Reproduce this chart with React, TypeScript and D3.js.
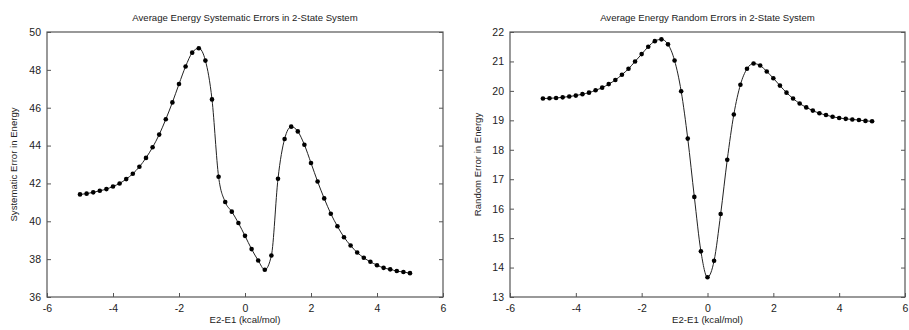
import React, { useRef, useEffect } from "react";
import * as d3 from "d3";

// E2-E1 grid, -5..5 step 0.2
const deltaE = [
  -5, -4.8, -4.6, -4.4, -4.2, -4, -3.8, -3.6, -3.4, -3.2, -3, -2.8, -2.6, -2.4, -2.2, -2, -1.8, -1.6, -1.4, -1.2, -1,
  -0.8, -0.6, -0.4, -0.2, 0, 0.2, 0.4, 0.6, 0.8, 1, 1.2, 1.4, 1.6, 1.8, 2, 2.2, 2.4, 2.6, 2.8, 3, 3.2, 3.4, 3.6, 3.8,
  4, 4.2, 4.4, 4.6, 4.8, 5,
];

const systematicErr = [
  41.42, 41.46, 41.53, 41.61, 41.7, 41.84, 42.0, 42.23, 42.51, 42.88, 43.35, 43.91, 44.58, 45.39, 46.28, 47.25, 48.18,
  48.91, 49.14, 48.49, 46.44, 42.35, 41.02, 40.51, 39.91, 39.23, 38.53, 37.93, 37.44, 38.19, 42.25, 44.35, 45.0, 44.75,
  44.04, 43.08, 42.1, 41.21, 40.4, 39.74, 39.16, 38.72, 38.35, 38.07, 37.86, 37.68, 37.54, 37.46, 37.37, 37.32, 37.26,
];

const randomErr = [
  19.74, 19.75, 19.76, 19.78, 19.81, 19.84, 19.89, 19.94, 20.02, 20.11, 20.23, 20.37, 20.55, 20.75, 21.0, 21.25, 21.5,
  21.69, 21.75, 21.58, 21.03, 19.99, 18.38, 16.4, 14.55, 13.67, 14.23, 15.82, 17.66, 19.2, 20.21, 20.75, 20.93, 20.86,
  20.66, 20.43, 20.18, 19.94, 19.74, 19.57, 19.44, 19.33, 19.24, 19.18, 19.12, 19.08, 19.05, 19.03, 19.01, 18.98, 18.97,
];

const xTicks = [-6, -4, -2, 0, 2, 4, 6];
const sysTicks = [36, 38, 40, 42, 44, 46, 48, 50];
const randTicks = [13, 14, 15, 16, 17, 18, 19, 20, 21, 22];

const FONT = "'Liberation Sans', Arial, sans-serif";

type PanelProps = {
  left: number;
  right: number;
  top: number;
  bottom: number;
  title: string;
  yLabel: string;
  yLabelX: number;
  values: number[];
  yDomain: [number, number];
  yTicks: number[];
};

const Panel: React.FC<PanelProps> = ({ left, right, top, bottom, title, yLabel, yLabelX, values, yDomain, yTicks }) => {
  const gRef = useRef<SVGGElement | null>(null);

  useEffect(() => {
    if (!gRef.current) return;
    const g = d3.select(gRef.current);
    g.selectAll("*").remove();

    const x = d3.scaleLinear().domain([-6, 6]).range([left, right]);
    const y = d3.scaleLinear().domain(yDomain).range([bottom, top]);
    const frame = "#555";

    // bottom axis, ticks pointing inward
    const xAxis = g.append("g")
      .attr("transform", `translate(0,${bottom})`)
      .call(d3.axisBottom(x).tickValues(xTicks).tickSizeInner(-4).tickSizeOuter(0).tickPadding(8).tickFormat((d: any) => String(d)));
    // left axis
    const yAxis = g.append("g")
      .attr("transform", `translate(${left},0)`)
      .call(d3.axisLeft(y).tickValues(yTicks).tickSizeInner(-4).tickSizeOuter(0).tickPadding(6).tickFormat((d: any) => String(d)));
    // mirrored ticks on the right
    const yAxisR = g.append("g")
      .attr("transform", `translate(${right},0)`)
      .call(d3.axisRight(y).tickValues(yTicks).tickSizeInner(-4).tickSizeOuter(0).tickFormat(() => ""));

    [xAxis, yAxis, yAxisR].forEach((a) => {
      a.select(".domain").remove();
      a.selectAll("line").attr("stroke", frame);
      a.selectAll("text").attr("fill", "#222").style("font-family", FONT).style("font-size", "10.5px");
    });

    g.append("rect")
      .attr("x", left)
      .attr("y", top)
      .attr("width", right - left)
      .attr("height", bottom - top)
      .attr("fill", "none")
      .attr("stroke", frame)
      .attr("stroke-width", 1.2);

    const pts = deltaE.map((d, i) => [d, values[i]] as [number, number]);
    const line = d3.line<[number, number]>().x((d) => x(d[0])).y((d) => y(d[1])).curve(d3.curveMonotoneX);

    g.append("path")
      .attr("d", line(pts) as string)
      .attr("fill", "none")
      .attr("stroke", "#222")
      .attr("stroke-width", 1);

    g.selectAll("circle.pt")
      .data(pts)
      .join("circle")
      .attr("class", "pt")
      .attr("cx", (d) => x(d[0]))
      .attr("cy", (d) => y(d[1]))
      .attr("r", 2.3)
      .attr("fill", "#000");

    g.append("text")
      .attr("x", (left + right) / 2)
      .attr("y", 21)
      .attr("text-anchor", "middle")
      .style("font-family", FONT)
      .style("font-size", "9.6px")
      .attr("fill", "#222")
      .text(title);

    g.append("text")
      .attr("x", (left + right) / 2)
      .attr("y", 323)
      .attr("text-anchor", "middle")
      .style("font-family", FONT)
      .style("font-size", "9.6px")
      .attr("fill", "#222")
      .text("E2-E1 (kcal/mol)");

    g.append("text")
      .attr("transform", `translate(${yLabelX},${(top + bottom) / 2}) rotate(-90)`)
      .attr("text-anchor", "middle")
      .style("font-family", FONT)
      .style("font-size", "9.6px")
      .attr("fill", "#222")
      .text(yLabel);
  }, [left, right, top, bottom, title, yLabel, yLabelX, values, yDomain, yTicks]);

  return <g ref={gRef} />;
};

export default function App() {
  return (
    <svg width={909} height={330} style={{ position: "absolute", left: 0, top: 0, background: "#fff" }}>
      <Panel
        left={47}
        right={443}
        top={32}
        bottom={297}
        title="Average Energy Systematic Errors in 2-State System"
        yLabel="Systematic Error in Energy"
        yLabelX={17}
        values={systematicErr}
        yDomain={[36, 50]}
        yTicks={sysTicks}
      />
      <Panel
        left={510}
        right={905}
        top={32}
        bottom={297}
        title="Average Energy Random Errors in 2-State System"
        yLabel="Random Error in Energy"
        yLabelX={481}
        values={randomErr}
        yDomain={[13, 22]}
        yTicks={randTicks}
      />
    </svg>
  );
}
